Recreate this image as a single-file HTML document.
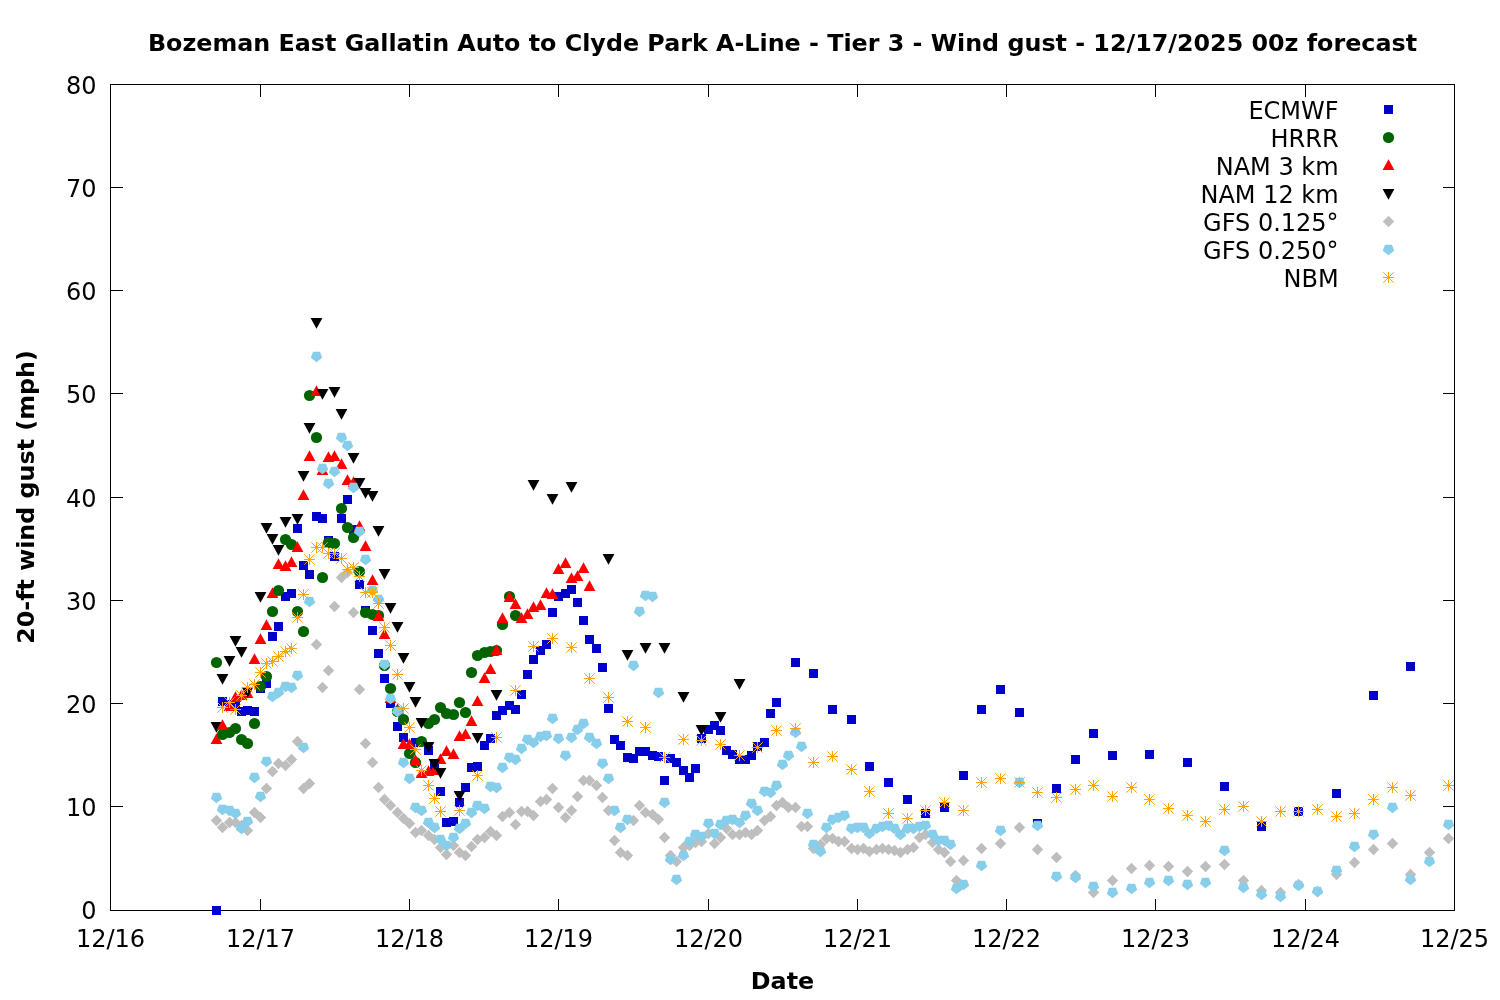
<!DOCTYPE html>
<html lang="en"><head><meta charset="utf-8"><title>Wind gust forecast</title>
<style>html,body{margin:0;padding:0;background:#fff}svg{display:block}text{font-family:"DejaVu Sans","Liberation Sans",sans-serif;fill:#000}</style></head><body>
<svg width="1500" height="1000" viewBox="0 0 1500 1000">
<rect width="1500" height="1000" fill="#fff"/>
<text x="782.5" y="50.5" text-anchor="middle" font-weight="bold" font-size="23.8px">Bozeman East Gallatin Auto to Clyde Park A-Line - Tier 3 - Wind gust - 12/17/2025 00z forecast</text>
<text x="782.5" y="988.6" text-anchor="middle" font-weight="bold" font-size="23.8px">Date</text>
<text transform="translate(34,497) rotate(-90)" text-anchor="middle" font-weight="bold" font-size="23.8px">20-ft wind gust (mph)</text>
<g stroke="#000" stroke-width="1" fill="none" shape-rendering="crispEdges"><rect x="110.5" y="84.5" width="1344.0" height="826.0"/><path d="M110.5 806.5h12M1454.5 806.5h-12"/><path d="M110.5 703.5h12M1454.5 703.5h-12"/><path d="M110.5 600.5h12M1454.5 600.5h-12"/><path d="M110.5 497.5h12M1454.5 497.5h-12"/><path d="M110.5 393.5h12M1454.5 393.5h-12"/><path d="M110.5 290.5h12M1454.5 290.5h-12"/><path d="M110.5 187.5h12M1454.5 187.5h-12"/><path d="M260.5 910.5v-12M260.5 84.5v12"/><path d="M409.5 910.5v-12M409.5 84.5v12"/><path d="M558.5 910.5v-12M558.5 84.5v12"/><path d="M708.5 910.5v-12M708.5 84.5v12"/><path d="M857.5 910.5v-12M857.5 84.5v12"/><path d="M1006.5 910.5v-12M1006.5 84.5v12"/><path d="M1155.5 910.5v-12M1155.5 84.5v12"/><path d="M1305.5 910.5v-12M1305.5 84.5v12"/></g>
<text x="96.5" y="919.1" text-anchor="end" font-size="24px">0</text><text x="96.5" y="815.8" text-anchor="end" font-size="24px">10</text><text x="96.5" y="712.8" text-anchor="end" font-size="24px">20</text><text x="96.5" y="609.8" text-anchor="end" font-size="24px">30</text><text x="96.5" y="506.8" text-anchor="end" font-size="24px">40</text><text x="96.5" y="402.8" text-anchor="end" font-size="24px">50</text><text x="96.5" y="299.8" text-anchor="end" font-size="24px">60</text><text x="96.5" y="196.8" text-anchor="end" font-size="24px">70</text><text x="96.5" y="93.8" text-anchor="end" font-size="24px">80</text>
<text x="110.5" y="947" text-anchor="middle" font-size="24px">12/16</text><text x="260.5" y="947" text-anchor="middle" font-size="24px">12/17</text><text x="409.5" y="947" text-anchor="middle" font-size="24px">12/18</text><text x="558.5" y="947" text-anchor="middle" font-size="24px">12/19</text><text x="708.5" y="947" text-anchor="middle" font-size="24px">12/20</text><text x="857.5" y="947" text-anchor="middle" font-size="24px">12/21</text><text x="1006.5" y="947" text-anchor="middle" font-size="24px">12/22</text><text x="1155.5" y="947" text-anchor="middle" font-size="24px">12/23</text><text x="1305.5" y="947" text-anchor="middle" font-size="24px">12/24</text><text x="1454.5" y="947" text-anchor="middle" font-size="24px">12/25</text>
<defs>
<rect id="sq" x="-4.5" y="-4.5" width="9" height="9" fill="#0000cd"/>
<circle id="ci" r="5.6" fill="#006400"/>
<path id="tu" d="M0 -6.2L5.9 4.6H-5.9Z" fill="#ff0000"/>
<path id="td" d="M0 6.2L5.9 -4.6H-5.9Z" fill="#000"/>
<path id="di" d="M0 -5.7L5.7 0L0 5.7L-5.7 0Z" fill="#bebebe"/>
<path id="pe" d="M0 5.7L5.7 1.3L3.5 -4.7H-3.5L-5.7 1.3Z" fill="#87ceeb"/>
<path id="st" d="M0 -5.5V5.5M-5.5 0H5.5M-5.2 -5.2L5.2 5.2M-5.2 5.2L5.2 -5.2" stroke="#ffa500" stroke-width="1" fill="none"/>
</defs>
<text x="1338.6" y="118.5" text-anchor="end" font-size="24px">ECMWF</text><use href="#sq" x="1388.5" y="109.5"/>
<text x="1338.6" y="146.5" text-anchor="end" font-size="24px">HRRR</text><use href="#ci" x="1388.5" y="137.5"/>
<text x="1338.6" y="174.5" text-anchor="end" font-size="24px">NAM 3 km</text><use href="#tu" x="1388.5" y="165.5"/>
<text x="1338.6" y="202.5" text-anchor="end" font-size="24px">NAM 12 km</text><use href="#td" x="1388.5" y="193.5"/>
<text x="1338.6" y="230.5" text-anchor="end" font-size="24px">GFS 0.125°</text><use href="#di" x="1388.5" y="221.5"/>
<text x="1338.6" y="258.5" text-anchor="end" font-size="24px">GFS 0.250°</text><use href="#pe" x="1388.5" y="249.5"/>
<text x="1338.6" y="286.5" text-anchor="end" font-size="24px">NBM</text><use href="#st" x="1388.5" y="277.5"/>
<g id="points">
<use href="#td" x="216.5" y="726.5"/><use href="#tu" x="216.5" y="739.5"/><use href="#tu" x="272.5" y="593.5"/><use href="#tu" x="397.5" y="709.5"/><use href="#sq" x="216.5" y="910.5"/><use href="#sq" x="222.5" y="701.5"/><use href="#sq" x="229.5" y="704.5"/><use href="#sq" x="235.5" y="706.5"/><use href="#sq" x="241.5" y="711.5"/><use href="#sq" x="247.5" y="710.5"/><use href="#sq" x="254.5" y="711.5"/><use href="#sq" x="260.5" y="688.5"/>
<use href="#sq" x="266.5" y="683.5"/><use href="#sq" x="272.5" y="636.5"/><use href="#sq" x="278.5" y="626.5"/><use href="#sq" x="285.5" y="596.5"/><use href="#sq" x="291.5" y="593.5"/><use href="#sq" x="297.5" y="528.5"/><use href="#sq" x="303.5" y="565.5"/><use href="#sq" x="309.5" y="574.5"/><use href="#sq" x="316.5" y="516.5"/><use href="#sq" x="322.5" y="518.5"/><use href="#sq" x="328.5" y="540.5"/><use href="#sq" x="334.5" y="556.5"/>
<use href="#sq" x="341.5" y="518.5"/><use href="#sq" x="347.5" y="499.5"/><use href="#sq" x="353.5" y="529.5"/><use href="#sq" x="359.5" y="584.5"/><use href="#sq" x="365.5" y="610.5"/><use href="#sq" x="372.5" y="630.5"/><use href="#sq" x="378.5" y="653.5"/><use href="#sq" x="384.5" y="678.5"/><use href="#sq" x="390.5" y="703.5"/><use href="#sq" x="397.5" y="726.5"/><use href="#sq" x="403.5" y="737.5"/><use href="#sq" x="415.5" y="742.5"/>
<use href="#sq" x="428.5" y="750.5"/><use href="#sq" x="434.5" y="766.5"/><use href="#sq" x="440.5" y="791.5"/><use href="#sq" x="446.5" y="822.5"/><use href="#sq" x="453.5" y="821.5"/><use href="#sq" x="459.5" y="802.5"/><use href="#sq" x="465.5" y="787.5"/><use href="#sq" x="471.5" y="767.5"/><use href="#sq" x="477.5" y="766.5"/><use href="#sq" x="484.5" y="745.5"/><use href="#sq" x="490.5" y="738.5"/><use href="#sq" x="496.5" y="715.5"/>
<use href="#sq" x="502.5" y="710.5"/><use href="#sq" x="509.5" y="705.5"/><use href="#sq" x="515.5" y="709.5"/><use href="#sq" x="521.5" y="694.5"/><use href="#sq" x="527.5" y="674.5"/><use href="#sq" x="533.5" y="659.5"/><use href="#sq" x="540.5" y="650.5"/><use href="#sq" x="546.5" y="644.5"/><use href="#sq" x="552.5" y="612.5"/><use href="#sq" x="558.5" y="596.5"/><use href="#sq" x="565.5" y="593.5"/><use href="#sq" x="571.5" y="589.5"/>
<use href="#sq" x="577.5" y="602.5"/><use href="#sq" x="583.5" y="620.5"/><use href="#sq" x="589.5" y="639.5"/><use href="#sq" x="596.5" y="648.5"/><use href="#sq" x="602.5" y="667.5"/><use href="#sq" x="608.5" y="708.5"/><use href="#sq" x="614.5" y="739.5"/><use href="#sq" x="620.5" y="745.5"/><use href="#sq" x="627.5" y="757.5"/><use href="#sq" x="633.5" y="758.5"/><use href="#sq" x="639.5" y="751.5"/><use href="#sq" x="645.5" y="751.5"/>
<use href="#sq" x="652.5" y="755.5"/><use href="#sq" x="658.5" y="756.5"/><use href="#sq" x="664.5" y="780.5"/><use href="#sq" x="670.5" y="758.5"/><use href="#sq" x="676.5" y="762.5"/><use href="#sq" x="683.5" y="770.5"/><use href="#sq" x="689.5" y="777.5"/><use href="#sq" x="695.5" y="768.5"/><use href="#sq" x="701.5" y="738.5"/><use href="#sq" x="708.5" y="729.5"/><use href="#sq" x="714.5" y="725.5"/><use href="#sq" x="720.5" y="730.5"/>
<use href="#sq" x="726.5" y="750.5"/><use href="#sq" x="732.5" y="754.5"/><use href="#sq" x="739.5" y="759.5"/><use href="#sq" x="745.5" y="759.5"/><use href="#sq" x="751.5" y="755.5"/><use href="#sq" x="757.5" y="746.5"/><use href="#sq" x="764.5" y="742.5"/><use href="#sq" x="770.5" y="713.5"/><use href="#sq" x="776.5" y="702.5"/><use href="#sq" x="795.5" y="662.5"/><use href="#sq" x="813.5" y="673.5"/><use href="#sq" x="832.5" y="709.5"/>
<use href="#sq" x="851.5" y="719.5"/><use href="#sq" x="869.5" y="766.5"/><use href="#sq" x="888.5" y="782.5"/><use href="#sq" x="907.5" y="799.5"/><use href="#sq" x="925.5" y="813.5"/><use href="#sq" x="944.5" y="807.5"/><use href="#sq" x="963.5" y="775.5"/><use href="#sq" x="981.5" y="709.5"/><use href="#sq" x="1000.5" y="689.5"/><use href="#sq" x="1019.5" y="712.5"/><use href="#sq" x="1037.5" y="823.5"/><use href="#sq" x="1056.5" y="788.5"/>
<use href="#sq" x="1075.5" y="759.5"/><use href="#sq" x="1093.5" y="733.5"/><use href="#sq" x="1112.5" y="755.5"/><use href="#sq" x="1149.5" y="754.5"/><use href="#sq" x="1187.5" y="762.5"/><use href="#sq" x="1224.5" y="786.5"/><use href="#sq" x="1261.5" y="826.5"/><use href="#sq" x="1298.5" y="811.5"/><use href="#sq" x="1336.5" y="793.5"/><use href="#sq" x="1373.5" y="695.5"/><use href="#sq" x="1410.5" y="666.5"/><use href="#ci" x="216.5" y="662.5"/>
<use href="#ci" x="222.5" y="734.5"/><use href="#ci" x="229.5" y="732.5"/><use href="#ci" x="235.5" y="728.5"/><use href="#ci" x="241.5" y="739.5"/><use href="#ci" x="247.5" y="743.5"/><use href="#ci" x="254.5" y="723.5"/><use href="#ci" x="260.5" y="686.5"/><use href="#ci" x="266.5" y="676.5"/><use href="#ci" x="272.5" y="611.5"/><use href="#ci" x="278.5" y="590.5"/><use href="#ci" x="285.5" y="539.5"/><use href="#ci" x="291.5" y="544.5"/>
<use href="#ci" x="297.5" y="611.5"/><use href="#ci" x="303.5" y="631.5"/><use href="#ci" x="309.5" y="395.5"/><use href="#ci" x="316.5" y="437.5"/><use href="#ci" x="322.5" y="577.5"/><use href="#ci" x="328.5" y="542.5"/><use href="#ci" x="334.5" y="543.5"/><use href="#ci" x="341.5" y="508.5"/><use href="#ci" x="347.5" y="527.5"/><use href="#ci" x="353.5" y="537.5"/><use href="#ci" x="359.5" y="571.5"/><use href="#ci" x="365.5" y="612.5"/>
<use href="#ci" x="372.5" y="614.5"/><use href="#ci" x="378.5" y="615.5"/><use href="#ci" x="384.5" y="665.5"/><use href="#ci" x="390.5" y="688.5"/><use href="#ci" x="397.5" y="711.5"/><use href="#ci" x="403.5" y="719.5"/><use href="#ci" x="409.5" y="753.5"/><use href="#ci" x="415.5" y="762.5"/><use href="#ci" x="421.5" y="741.5"/><use href="#ci" x="428.5" y="723.5"/><use href="#ci" x="434.5" y="719.5"/><use href="#ci" x="440.5" y="707.5"/>
<use href="#ci" x="446.5" y="713.5"/><use href="#ci" x="453.5" y="714.5"/><use href="#ci" x="459.5" y="702.5"/><use href="#ci" x="465.5" y="712.5"/><use href="#ci" x="471.5" y="672.5"/><use href="#ci" x="477.5" y="655.5"/><use href="#ci" x="484.5" y="652.5"/><use href="#ci" x="490.5" y="651.5"/><use href="#ci" x="496.5" y="650.5"/><use href="#ci" x="502.5" y="624.5"/><use href="#ci" x="509.5" y="596.5"/><use href="#ci" x="515.5" y="615.5"/>
<use href="#tu" x="222.5" y="725.5"/><use href="#tu" x="229.5" y="706.5"/><use href="#tu" x="235.5" y="697.5"/><use href="#tu" x="241.5" y="695.5"/><use href="#tu" x="247.5" y="693.5"/><use href="#tu" x="254.5" y="659.5"/><use href="#tu" x="260.5" y="639.5"/><use href="#tu" x="266.5" y="625.5"/><use href="#tu" x="278.5" y="564.5"/><use href="#tu" x="285.5" y="566.5"/><use href="#tu" x="291.5" y="562.5"/><use href="#tu" x="297.5" y="547.5"/>
<use href="#tu" x="303.5" y="495.5"/><use href="#tu" x="309.5" y="456.5"/><use href="#tu" x="316.5" y="391.5"/><use href="#tu" x="322.5" y="470.5"/><use href="#tu" x="328.5" y="457.5"/><use href="#tu" x="334.5" y="456.5"/><use href="#tu" x="341.5" y="464.5"/><use href="#tu" x="347.5" y="480.5"/><use href="#tu" x="353.5" y="482.5"/><use href="#tu" x="359.5" y="526.5"/><use href="#tu" x="365.5" y="546.5"/><use href="#tu" x="372.5" y="580.5"/>
<use href="#tu" x="378.5" y="616.5"/><use href="#tu" x="384.5" y="634.5"/><use href="#tu" x="390.5" y="698.5"/><use href="#tu" x="403.5" y="744.5"/><use href="#tu" x="409.5" y="744.5"/><use href="#tu" x="415.5" y="760.5"/><use href="#tu" x="421.5" y="773.5"/><use href="#tu" x="428.5" y="771.5"/><use href="#tu" x="434.5" y="770.5"/><use href="#tu" x="440.5" y="759.5"/><use href="#tu" x="446.5" y="751.5"/><use href="#tu" x="453.5" y="754.5"/>
<use href="#tu" x="459.5" y="736.5"/><use href="#tu" x="465.5" y="734.5"/><use href="#tu" x="471.5" y="721.5"/><use href="#tu" x="477.5" y="701.5"/><use href="#tu" x="484.5" y="678.5"/><use href="#tu" x="490.5" y="669.5"/><use href="#tu" x="496.5" y="650.5"/><use href="#tu" x="502.5" y="618.5"/><use href="#tu" x="509.5" y="597.5"/><use href="#tu" x="515.5" y="604.5"/><use href="#tu" x="521.5" y="618.5"/><use href="#tu" x="527.5" y="614.5"/>
<use href="#tu" x="533.5" y="607.5"/><use href="#tu" x="540.5" y="605.5"/><use href="#tu" x="546.5" y="593.5"/><use href="#tu" x="552.5" y="594.5"/><use href="#tu" x="558.5" y="569.5"/><use href="#tu" x="565.5" y="563.5"/><use href="#tu" x="571.5" y="578.5"/><use href="#tu" x="577.5" y="576.5"/><use href="#tu" x="583.5" y="568.5"/><use href="#tu" x="589.5" y="586.5"/><use href="#td" x="222.5" y="678.5"/><use href="#td" x="229.5" y="660.5"/>
<use href="#td" x="235.5" y="640.5"/><use href="#td" x="241.5" y="651.5"/><use href="#td" x="247.5" y="691.5"/><use href="#td" x="260.5" y="596.5"/><use href="#td" x="266.5" y="527.5"/><use href="#td" x="272.5" y="538.5"/><use href="#td" x="278.5" y="549.5"/><use href="#td" x="285.5" y="521.5"/><use href="#td" x="297.5" y="518.5"/><use href="#td" x="303.5" y="475.5"/><use href="#td" x="309.5" y="427.5"/><use href="#td" x="316.5" y="322.5"/>
<use href="#td" x="322.5" y="393.5"/><use href="#td" x="334.5" y="391.5"/><use href="#td" x="341.5" y="413.5"/><use href="#td" x="353.5" y="457.5"/><use href="#td" x="359.5" y="482.5"/><use href="#td" x="365.5" y="492.5"/><use href="#td" x="372.5" y="495.5"/><use href="#td" x="378.5" y="530.5"/><use href="#td" x="384.5" y="573.5"/><use href="#td" x="390.5" y="607.5"/><use href="#td" x="397.5" y="626.5"/><use href="#td" x="403.5" y="657.5"/>
<use href="#td" x="409.5" y="686.5"/><use href="#td" x="415.5" y="701.5"/><use href="#td" x="421.5" y="722.5"/><use href="#td" x="428.5" y="746.5"/><use href="#td" x="434.5" y="763.5"/><use href="#td" x="440.5" y="772.5"/><use href="#td" x="459.5" y="795.5"/><use href="#td" x="477.5" y="737.5"/><use href="#td" x="496.5" y="694.5"/><use href="#td" x="533.5" y="484.5"/><use href="#td" x="552.5" y="498.5"/><use href="#td" x="571.5" y="486.5"/>
<use href="#td" x="608.5" y="558.5"/><use href="#td" x="627.5" y="654.5"/><use href="#td" x="645.5" y="647.5"/><use href="#td" x="664.5" y="647.5"/><use href="#td" x="683.5" y="696.5"/><use href="#td" x="701.5" y="729.5"/><use href="#td" x="720.5" y="716.5"/><use href="#td" x="739.5" y="683.5"/><use href="#di" x="216.5" y="820.5"/><use href="#di" x="222.5" y="827.5"/><use href="#di" x="229.5" y="822.5"/><use href="#di" x="235.5" y="822.5"/>
<use href="#di" x="241.5" y="825.5"/><use href="#di" x="247.5" y="830.5"/><use href="#di" x="254.5" y="812.5"/><use href="#di" x="260.5" y="817.5"/><use href="#di" x="266.5" y="788.5"/><use href="#di" x="272.5" y="771.5"/><use href="#di" x="278.5" y="763.5"/><use href="#di" x="285.5" y="765.5"/><use href="#di" x="291.5" y="759.5"/><use href="#di" x="297.5" y="741.5"/><use href="#di" x="303.5" y="788.5"/><use href="#di" x="309.5" y="783.5"/>
<use href="#di" x="316.5" y="644.5"/><use href="#di" x="322.5" y="687.5"/><use href="#di" x="328.5" y="670.5"/><use href="#di" x="334.5" y="606.5"/><use href="#di" x="341.5" y="577.5"/><use href="#di" x="347.5" y="572.5"/><use href="#di" x="353.5" y="612.5"/><use href="#di" x="359.5" y="689.5"/><use href="#di" x="365.5" y="743.5"/><use href="#di" x="372.5" y="762.5"/><use href="#di" x="378.5" y="787.5"/><use href="#di" x="384.5" y="799.5"/>
<use href="#di" x="390.5" y="805.5"/><use href="#di" x="397.5" y="812.5"/><use href="#di" x="403.5" y="818.5"/><use href="#di" x="409.5" y="823.5"/><use href="#di" x="415.5" y="832.5"/><use href="#di" x="421.5" y="830.5"/><use href="#di" x="428.5" y="835.5"/><use href="#di" x="434.5" y="839.5"/><use href="#di" x="440.5" y="847.5"/><use href="#di" x="446.5" y="854.5"/><use href="#di" x="453.5" y="845.5"/><use href="#di" x="459.5" y="852.5"/>
<use href="#di" x="465.5" y="855.5"/><use href="#di" x="471.5" y="846.5"/><use href="#di" x="477.5" y="839.5"/><use href="#di" x="484.5" y="837.5"/><use href="#di" x="490.5" y="831.5"/><use href="#di" x="496.5" y="835.5"/><use href="#di" x="502.5" y="816.5"/><use href="#di" x="509.5" y="812.5"/><use href="#di" x="515.5" y="824.5"/><use href="#di" x="521.5" y="811.5"/><use href="#di" x="527.5" y="811.5"/><use href="#di" x="533.5" y="815.5"/>
<use href="#di" x="540.5" y="801.5"/><use href="#di" x="546.5" y="799.5"/><use href="#di" x="552.5" y="788.5"/><use href="#di" x="558.5" y="807.5"/><use href="#di" x="565.5" y="817.5"/><use href="#di" x="571.5" y="810.5"/><use href="#di" x="577.5" y="796.5"/><use href="#di" x="583.5" y="780.5"/><use href="#di" x="589.5" y="780.5"/><use href="#di" x="596.5" y="785.5"/><use href="#di" x="602.5" y="797.5"/><use href="#di" x="608.5" y="810.5"/>
<use href="#di" x="614.5" y="840.5"/><use href="#di" x="620.5" y="852.5"/><use href="#di" x="627.5" y="855.5"/><use href="#di" x="633.5" y="820.5"/><use href="#di" x="639.5" y="805.5"/><use href="#di" x="645.5" y="812.5"/><use href="#di" x="652.5" y="814.5"/><use href="#di" x="658.5" y="819.5"/><use href="#di" x="664.5" y="837.5"/><use href="#di" x="670.5" y="855.5"/><use href="#di" x="676.5" y="861.5"/><use href="#di" x="683.5" y="847.5"/>
<use href="#di" x="689.5" y="845.5"/><use href="#di" x="695.5" y="842.5"/><use href="#di" x="701.5" y="841.5"/><use href="#di" x="708.5" y="833.5"/><use href="#di" x="714.5" y="843.5"/><use href="#di" x="720.5" y="837.5"/><use href="#di" x="726.5" y="828.5"/><use href="#di" x="732.5" y="834.5"/><use href="#di" x="739.5" y="834.5"/><use href="#di" x="745.5" y="832.5"/><use href="#di" x="751.5" y="834.5"/><use href="#di" x="757.5" y="830.5"/>
<use href="#di" x="764.5" y="820.5"/><use href="#di" x="770.5" y="816.5"/><use href="#di" x="776.5" y="805.5"/><use href="#di" x="782.5" y="802.5"/><use href="#di" x="788.5" y="807.5"/><use href="#di" x="795.5" y="807.5"/><use href="#di" x="801.5" y="826.5"/><use href="#di" x="807.5" y="826.5"/><use href="#di" x="813.5" y="848.5"/><use href="#di" x="820.5" y="844.5"/><use href="#di" x="826.5" y="838.5"/><use href="#di" x="832.5" y="838.5"/>
<use href="#di" x="838.5" y="841.5"/><use href="#di" x="844.5" y="841.5"/><use href="#di" x="851.5" y="848.5"/><use href="#di" x="857.5" y="849.5"/><use href="#di" x="863.5" y="848.5"/><use href="#di" x="869.5" y="851.5"/><use href="#di" x="876.5" y="849.5"/><use href="#di" x="882.5" y="848.5"/><use href="#di" x="888.5" y="849.5"/><use href="#di" x="894.5" y="850.5"/><use href="#di" x="900.5" y="852.5"/><use href="#di" x="907.5" y="849.5"/>
<use href="#di" x="913.5" y="847.5"/><use href="#di" x="919.5" y="837.5"/><use href="#di" x="925.5" y="834.5"/><use href="#di" x="932.5" y="842.5"/><use href="#di" x="938.5" y="849.5"/><use href="#di" x="944.5" y="852.5"/><use href="#di" x="950.5" y="861.5"/><use href="#di" x="956.5" y="880.5"/><use href="#di" x="963.5" y="860.5"/><use href="#di" x="981.5" y="848.5"/><use href="#di" x="1000.5" y="843.5"/><use href="#di" x="1019.5" y="827.5"/>
<use href="#di" x="1037.5" y="849.5"/><use href="#di" x="1056.5" y="857.5"/><use href="#di" x="1075.5" y="875.5"/><use href="#di" x="1093.5" y="892.5"/><use href="#di" x="1112.5" y="880.5"/><use href="#di" x="1131.5" y="868.5"/><use href="#di" x="1149.5" y="865.5"/><use href="#di" x="1168.5" y="866.5"/><use href="#di" x="1187.5" y="871.5"/><use href="#di" x="1205.5" y="866.5"/><use href="#di" x="1224.5" y="864.5"/><use href="#di" x="1243.5" y="880.5"/>
<use href="#di" x="1261.5" y="890.5"/><use href="#di" x="1280.5" y="892.5"/><use href="#di" x="1298.5" y="884.5"/><use href="#di" x="1317.5" y="891.5"/><use href="#di" x="1336.5" y="874.5"/><use href="#di" x="1354.5" y="862.5"/><use href="#di" x="1373.5" y="849.5"/><use href="#di" x="1392.5" y="843.5"/><use href="#di" x="1410.5" y="874.5"/><use href="#di" x="1429.5" y="852.5"/><use href="#di" x="1448.5" y="838.5"/><use href="#pe" x="216.5" y="797.5"/>
<use href="#pe" x="222.5" y="809.5"/><use href="#pe" x="229.5" y="810.5"/><use href="#pe" x="235.5" y="813.5"/><use href="#pe" x="241.5" y="828.5"/><use href="#pe" x="247.5" y="821.5"/><use href="#pe" x="254.5" y="777.5"/><use href="#pe" x="260.5" y="796.5"/><use href="#pe" x="266.5" y="761.5"/><use href="#pe" x="272.5" y="696.5"/><use href="#pe" x="278.5" y="692.5"/><use href="#pe" x="285.5" y="686.5"/><use href="#pe" x="291.5" y="687.5"/>
<use href="#pe" x="297.5" y="675.5"/><use href="#pe" x="303.5" y="747.5"/><use href="#pe" x="309.5" y="601.5"/><use href="#pe" x="316.5" y="356.5"/><use href="#pe" x="322.5" y="468.5"/><use href="#pe" x="328.5" y="483.5"/><use href="#pe" x="334.5" y="471.5"/><use href="#pe" x="341.5" y="437.5"/><use href="#pe" x="347.5" y="445.5"/><use href="#pe" x="353.5" y="487.5"/><use href="#pe" x="359.5" y="531.5"/><use href="#pe" x="365.5" y="559.5"/>
<use href="#pe" x="372.5" y="590.5"/><use href="#pe" x="378.5" y="599.5"/><use href="#pe" x="384.5" y="664.5"/><use href="#pe" x="390.5" y="698.5"/><use href="#pe" x="397.5" y="711.5"/><use href="#pe" x="403.5" y="762.5"/><use href="#pe" x="409.5" y="778.5"/><use href="#pe" x="415.5" y="807.5"/><use href="#pe" x="421.5" y="810.5"/><use href="#pe" x="428.5" y="822.5"/><use href="#pe" x="434.5" y="827.5"/><use href="#pe" x="440.5" y="839.5"/>
<use href="#pe" x="446.5" y="845.5"/><use href="#pe" x="453.5" y="837.5"/><use href="#pe" x="459.5" y="828.5"/><use href="#pe" x="465.5" y="823.5"/><use href="#pe" x="471.5" y="812.5"/><use href="#pe" x="477.5" y="805.5"/><use href="#pe" x="484.5" y="808.5"/><use href="#pe" x="490.5" y="786.5"/><use href="#pe" x="496.5" y="787.5"/><use href="#pe" x="502.5" y="767.5"/><use href="#pe" x="509.5" y="757.5"/><use href="#pe" x="515.5" y="759.5"/>
<use href="#pe" x="521.5" y="748.5"/><use href="#pe" x="527.5" y="739.5"/><use href="#pe" x="533.5" y="742.5"/><use href="#pe" x="540.5" y="736.5"/><use href="#pe" x="546.5" y="735.5"/><use href="#pe" x="552.5" y="718.5"/><use href="#pe" x="558.5" y="738.5"/><use href="#pe" x="565.5" y="755.5"/><use href="#pe" x="571.5" y="737.5"/><use href="#pe" x="577.5" y="729.5"/><use href="#pe" x="583.5" y="723.5"/><use href="#pe" x="589.5" y="737.5"/>
<use href="#pe" x="596.5" y="743.5"/><use href="#pe" x="602.5" y="763.5"/><use href="#pe" x="608.5" y="778.5"/><use href="#pe" x="614.5" y="810.5"/><use href="#pe" x="620.5" y="827.5"/><use href="#pe" x="627.5" y="819.5"/><use href="#pe" x="633.5" y="665.5"/><use href="#pe" x="639.5" y="611.5"/><use href="#pe" x="645.5" y="595.5"/><use href="#pe" x="652.5" y="596.5"/><use href="#pe" x="658.5" y="692.5"/><use href="#pe" x="664.5" y="802.5"/>
<use href="#pe" x="670.5" y="859.5"/><use href="#pe" x="676.5" y="879.5"/><use href="#pe" x="683.5" y="855.5"/><use href="#pe" x="689.5" y="841.5"/><use href="#pe" x="695.5" y="834.5"/><use href="#pe" x="701.5" y="836.5"/><use href="#pe" x="708.5" y="823.5"/><use href="#pe" x="714.5" y="833.5"/><use href="#pe" x="720.5" y="824.5"/><use href="#pe" x="726.5" y="820.5"/><use href="#pe" x="732.5" y="819.5"/><use href="#pe" x="739.5" y="822.5"/>
<use href="#pe" x="745.5" y="815.5"/><use href="#pe" x="751.5" y="803.5"/><use href="#pe" x="757.5" y="810.5"/><use href="#pe" x="764.5" y="791.5"/><use href="#pe" x="770.5" y="792.5"/><use href="#pe" x="776.5" y="785.5"/><use href="#pe" x="782.5" y="764.5"/><use href="#pe" x="788.5" y="755.5"/><use href="#pe" x="795.5" y="732.5"/><use href="#pe" x="801.5" y="746.5"/><use href="#pe" x="807.5" y="813.5"/><use href="#pe" x="813.5" y="844.5"/>
<use href="#pe" x="820.5" y="851.5"/><use href="#pe" x="826.5" y="827.5"/><use href="#pe" x="832.5" y="819.5"/><use href="#pe" x="838.5" y="817.5"/><use href="#pe" x="844.5" y="815.5"/><use href="#pe" x="851.5" y="828.5"/><use href="#pe" x="857.5" y="827.5"/><use href="#pe" x="863.5" y="827.5"/><use href="#pe" x="869.5" y="833.5"/><use href="#pe" x="876.5" y="828.5"/><use href="#pe" x="882.5" y="826.5"/><use href="#pe" x="888.5" y="825.5"/>
<use href="#pe" x="894.5" y="828.5"/><use href="#pe" x="900.5" y="834.5"/><use href="#pe" x="907.5" y="828.5"/><use href="#pe" x="913.5" y="828.5"/><use href="#pe" x="919.5" y="826.5"/><use href="#pe" x="925.5" y="825.5"/><use href="#pe" x="932.5" y="834.5"/><use href="#pe" x="938.5" y="840.5"/><use href="#pe" x="944.5" y="840.5"/><use href="#pe" x="950.5" y="844.5"/><use href="#pe" x="956.5" y="888.5"/><use href="#pe" x="963.5" y="884.5"/>
<use href="#pe" x="981.5" y="865.5"/><use href="#pe" x="1000.5" y="830.5"/><use href="#pe" x="1019.5" y="782.5"/><use href="#pe" x="1037.5" y="825.5"/><use href="#pe" x="1056.5" y="876.5"/><use href="#pe" x="1075.5" y="877.5"/><use href="#pe" x="1093.5" y="886.5"/><use href="#pe" x="1112.5" y="892.5"/><use href="#pe" x="1131.5" y="888.5"/><use href="#pe" x="1149.5" y="882.5"/><use href="#pe" x="1168.5" y="880.5"/><use href="#pe" x="1187.5" y="884.5"/>
<use href="#pe" x="1205.5" y="882.5"/><use href="#pe" x="1224.5" y="850.5"/><use href="#pe" x="1243.5" y="887.5"/><use href="#pe" x="1261.5" y="894.5"/><use href="#pe" x="1280.5" y="896.5"/><use href="#pe" x="1298.5" y="885.5"/><use href="#pe" x="1317.5" y="891.5"/><use href="#pe" x="1336.5" y="870.5"/><use href="#pe" x="1354.5" y="846.5"/><use href="#pe" x="1373.5" y="834.5"/><use href="#pe" x="1392.5" y="807.5"/><use href="#pe" x="1410.5" y="879.5"/>
<use href="#pe" x="1429.5" y="861.5"/><use href="#pe" x="1448.5" y="824.5"/><use href="#st" x="222.5" y="707.5"/><use href="#st" x="229.5" y="702.5"/><use href="#st" x="235.5" y="709.5"/><use href="#st" x="241.5" y="695.5"/><use href="#st" x="247.5" y="687.5"/><use href="#st" x="254.5" y="684.5"/><use href="#st" x="260.5" y="672.5"/><use href="#st" x="266.5" y="663.5"/><use href="#st" x="272.5" y="661.5"/><use href="#st" x="278.5" y="656.5"/>
<use href="#st" x="285.5" y="651.5"/><use href="#st" x="291.5" y="648.5"/><use href="#st" x="297.5" y="617.5"/><use href="#st" x="303.5" y="594.5"/><use href="#st" x="309.5" y="559.5"/><use href="#st" x="316.5" y="547.5"/><use href="#st" x="322.5" y="547.5"/><use href="#st" x="328.5" y="553.5"/><use href="#st" x="334.5" y="553.5"/><use href="#st" x="341.5" y="558.5"/><use href="#st" x="347.5" y="569.5"/><use href="#st" x="353.5" y="567.5"/>
<use href="#st" x="359.5" y="576.5"/><use href="#st" x="365.5" y="592.5"/><use href="#st" x="372.5" y="592.5"/><use href="#st" x="378.5" y="603.5"/><use href="#st" x="384.5" y="627.5"/><use href="#st" x="390.5" y="645.5"/><use href="#st" x="397.5" y="674.5"/><use href="#st" x="403.5" y="708.5"/><use href="#st" x="409.5" y="727.5"/><use href="#st" x="415.5" y="749.5"/><use href="#st" x="421.5" y="770.5"/><use href="#st" x="428.5" y="785.5"/>
<use href="#st" x="434.5" y="798.5"/><use href="#st" x="440.5" y="811.5"/><use href="#st" x="459.5" y="810.5"/><use href="#st" x="477.5" y="775.5"/><use href="#st" x="496.5" y="737.5"/><use href="#st" x="515.5" y="690.5"/><use href="#st" x="533.5" y="646.5"/><use href="#st" x="552.5" y="638.5"/><use href="#st" x="571.5" y="647.5"/><use href="#st" x="589.5" y="678.5"/><use href="#st" x="608.5" y="697.5"/><use href="#st" x="627.5" y="721.5"/>
<use href="#st" x="645.5" y="727.5"/><use href="#st" x="664.5" y="757.5"/><use href="#st" x="683.5" y="739.5"/><use href="#st" x="701.5" y="740.5"/><use href="#st" x="720.5" y="744.5"/><use href="#st" x="739.5" y="755.5"/><use href="#st" x="757.5" y="747.5"/><use href="#st" x="776.5" y="730.5"/><use href="#st" x="795.5" y="728.5"/><use href="#st" x="813.5" y="762.5"/><use href="#st" x="832.5" y="756.5"/><use href="#st" x="851.5" y="769.5"/>
<use href="#st" x="869.5" y="791.5"/><use href="#st" x="888.5" y="813.5"/><use href="#st" x="907.5" y="818.5"/><use href="#st" x="925.5" y="810.5"/><use href="#st" x="944.5" y="802.5"/><use href="#st" x="963.5" y="810.5"/><use href="#st" x="981.5" y="782.5"/><use href="#st" x="1000.5" y="778.5"/><use href="#st" x="1019.5" y="782.5"/><use href="#st" x="1037.5" y="792.5"/><use href="#st" x="1056.5" y="797.5"/><use href="#st" x="1075.5" y="789.5"/>
<use href="#st" x="1093.5" y="785.5"/><use href="#st" x="1112.5" y="796.5"/><use href="#st" x="1131.5" y="787.5"/><use href="#st" x="1149.5" y="799.5"/><use href="#st" x="1168.5" y="808.5"/><use href="#st" x="1187.5" y="815.5"/><use href="#st" x="1205.5" y="821.5"/><use href="#st" x="1224.5" y="809.5"/><use href="#st" x="1243.5" y="806.5"/><use href="#st" x="1261.5" y="821.5"/><use href="#st" x="1280.5" y="811.5"/><use href="#st" x="1298.5" y="811.5"/>
<use href="#st" x="1317.5" y="809.5"/><use href="#st" x="1336.5" y="816.5"/><use href="#st" x="1354.5" y="813.5"/><use href="#st" x="1373.5" y="799.5"/><use href="#st" x="1392.5" y="787.5"/><use href="#st" x="1410.5" y="795.5"/><use href="#st" x="1448.5" y="785.5"/>
</g>
</svg>
</body></html>
